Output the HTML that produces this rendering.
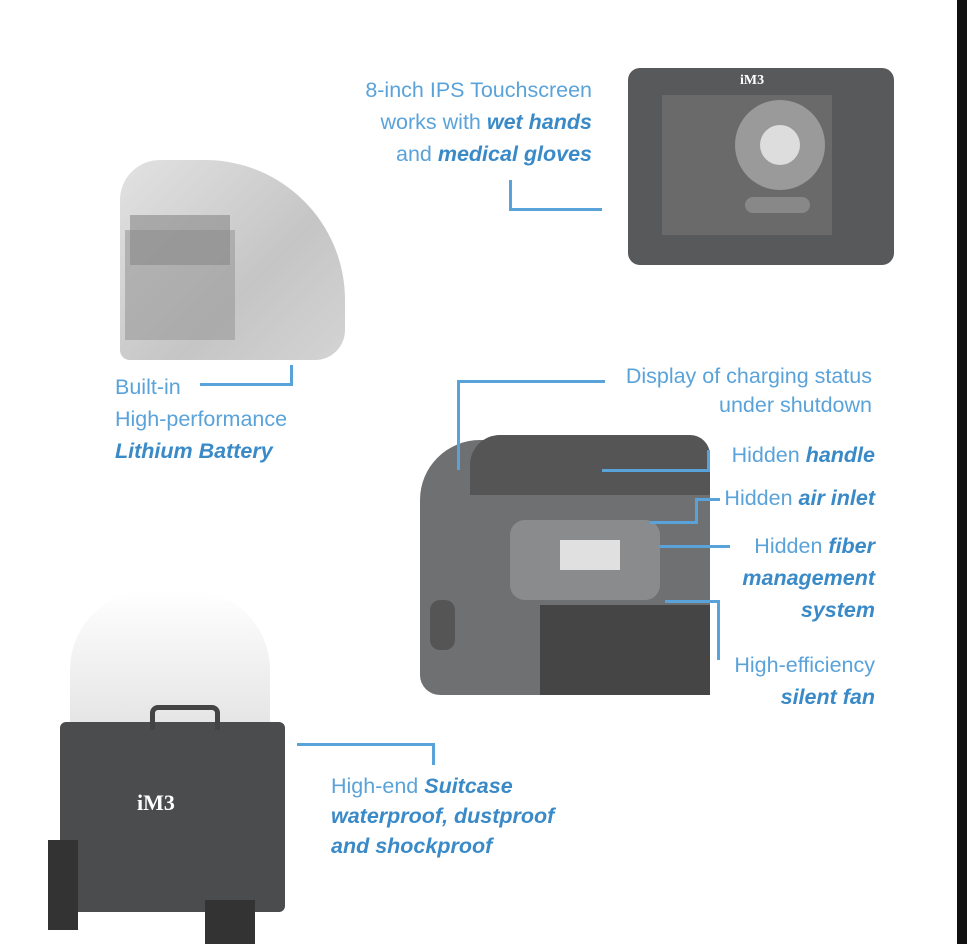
<!DOCTYPE html>
<html><head><meta charset="utf-8"><style>
body{margin:0;width:967px;height:944px;background:#fff;position:relative;overflow:hidden;font-family:"Liberation Sans",sans-serif}
.t{position:absolute;color:#5aa3da;font-size:21.5px;line-height:32px;white-space:nowrap}
.r{text-align:right}
b{color:#3a8ac8;font-style:italic;font-weight:bold}
.l{position:absolute;background:#5aa3da}
.g{position:absolute}
</style></head><body>
<div class="g" style="left:957px;top:0;width:10px;height:944px;background:#111"></div>

<!-- tablet -->
<div class="g" style="left:628px;top:68px;width:266px;height:197px;background:#58595b;border-radius:12px"></div>
<div class="g" style="left:662px;top:95px;width:170px;height:140px;background:#6a6a6a"></div>
<div class="g" style="left:735px;top:100px;width:90px;height:90px;border-radius:50%;background:#9a9a9a"></div>
<div class="g" style="left:760px;top:125px;width:40px;height:40px;border-radius:50%;background:#ddd"></div>
<div class="g" style="left:740px;top:73px;color:#fff;font:bold 14px 'Liberation Serif',serif">iM3</div>
<div class="g" style="left:745px;top:197px;width:65px;height:16px;border-radius:8px;background:#888"></div>

<!-- battery device -->
<div class="g" style="left:120px;top:160px;width:225px;height:200px;background:linear-gradient(135deg,#ddd,#bbb 60%,#ccc);border-radius:40px 140px 30px 10px;opacity:.85"></div>
<div class="g" style="left:125px;top:230px;width:110px;height:110px;background:#999;opacity:.6"></div>
<div class="g" style="left:130px;top:215px;width:100px;height:50px;background:#888;opacity:.6"></div>

<!-- main device -->
<div class="g" style="left:420px;top:440px;width:290px;height:255px;background:#6f7072;border-radius:60px 30px 20px 20px"></div>
<div class="g" style="left:470px;top:435px;width:240px;height:60px;background:#555;border-radius:30px 20px 0 0"></div>
<div class="g" style="left:510px;top:520px;width:150px;height:80px;background:#8a8b8c;border-radius:15px"></div>
<div class="g" style="left:560px;top:540px;width:60px;height:30px;background:#e0e0e0"></div>
<div class="g" style="left:540px;top:605px;width:170px;height:90px;background:#454545"></div>
<div class="g" style="left:430px;top:600px;width:25px;height:50px;background:#555;border-radius:10px"></div>

<!-- person + suitcase -->
<div class="g" style="left:70px;top:590px;width:200px;height:140px;background:linear-gradient(#fff,#e4e4e4);border-radius:80px 80px 0 0"></div>
<div class="g" style="left:60px;top:722px;width:225px;height:190px;background:#4b4c4e;border-radius:6px"></div>
<div class="g" style="left:150px;top:705px;width:60px;height:20px;border:5px solid #444;border-bottom:none;border-radius:8px 8px 0 0"></div>
<div class="g" style="left:137px;top:790px;color:#fff;font:bold 22px 'Liberation Serif',serif">iM3</div>
<div class="g" style="left:48px;top:840px;width:30px;height:90px;background:#333"></div>
<div class="g" style="left:205px;top:900px;width:50px;height:44px;background:#333"></div>

<!-- texts -->
<div class="t r" style="right:375px;top:74px">8-inch IPS Touchscreen<br>works with <b>wet hands</b><br>and <b>medical gloves</b></div>
<div class="l" style="left:509px;top:180px;width:3px;height:31px"></div>
<div class="l" style="left:509px;top:208px;width:93px;height:3px"></div>

<div class="t" style="left:115px;top:371px">Built-in<br>High-performance<br><b>Lithium Battery</b></div>
<div class="l" style="left:200px;top:383px;width:93px;height:3px"></div>
<div class="l" style="left:290px;top:365px;width:3px;height:21px"></div>

<div class="t r" style="right:95px;top:362px;line-height:29px">Display of charging status<br>under shutdown</div>
<div class="l" style="left:457px;top:380px;width:148px;height:3px"></div>
<div class="l" style="left:457px;top:380px;width:3px;height:90px"></div>

<div class="t r" style="right:92px;top:439px">Hidden <b>handle</b></div>
<div class="l" style="left:602px;top:469px;width:108px;height:3px"></div>
<div class="l" style="left:707px;top:450px;width:3px;height:22px"></div>

<div class="t r" style="right:92px;top:482px">Hidden <b>air inlet</b></div>
<div class="l" style="left:650px;top:521px;width:48px;height:3px"></div>
<div class="l" style="left:695px;top:498px;width:3px;height:26px"></div>
<div class="l" style="left:695px;top:498px;width:25px;height:3px"></div>

<div class="t r" style="right:92px;top:530px">Hidden <b>fiber</b><br><b>management</b><br><b>system</b></div>
<div class="l" style="left:660px;top:545px;width:70px;height:3px"></div>

<div class="t r" style="right:92px;top:649px">High-efficiency<br><b>silent fan</b></div>
<div class="l" style="left:665px;top:600px;width:55px;height:3px"></div>
<div class="l" style="left:717px;top:600px;width:3px;height:60px"></div>

<div class="l" style="left:297px;top:743px;width:138px;height:3px"></div>
<div class="l" style="left:432px;top:743px;width:3px;height:22px"></div>
<div class="t" style="left:331px;top:771px;line-height:30px">High-end <b>Suitcase</b><br><b>waterproof, dustproof</b><br><b>and shockproof</b></div>
</body></html>
